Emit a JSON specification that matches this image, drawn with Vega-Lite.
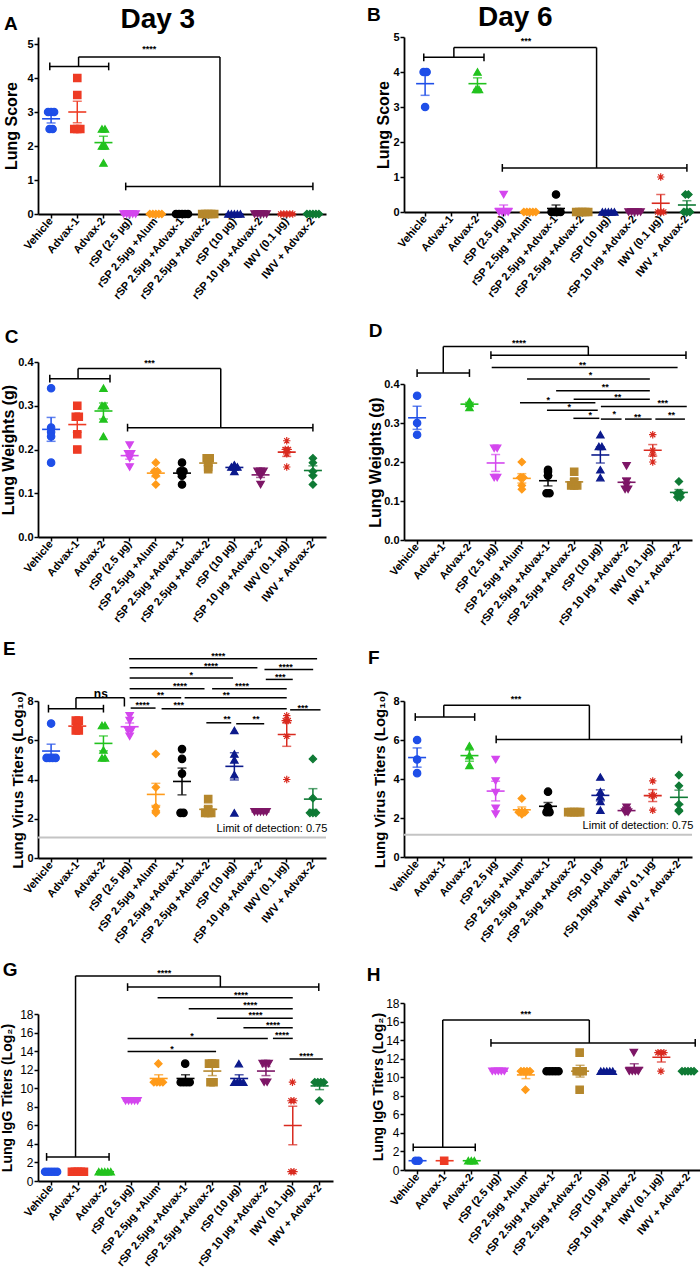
{
"$schema":"https://vega.github.io/schema/vega-lite/v6.json",
"padding":{"left":0,"top":4,"right":0,"bottom":0},
"spacing":33,
"config":{
 "font":"Liberation Sans",
 "view":{"stroke":null},
 "range":{"category":["#1f4fe8","#ee3b24","#22c21e","#d447ee","#ff9b1a","#000000","#b5872c","#0c1a8c","#7d1666","#d92a1f","#0f7a35"],
  "symbol":["circle","square","triangle-up","triangle-down","diamond","circle","square","triangle-up","triangle-down","M0,-1L0,1M-1,0L1,0M-0.7,-0.7L0.7,0.7M-0.7,0.7L0.7,-0.7","diamond"]},
 "axis":{"domainColor":"black","domainWidth":1.8,"tickColor":"black","tickWidth":1.5,"tickSize":4,"labelColor":"black","labelFontWeight":"bold","labelFontSize":11,"titleColor":"black","titleFontWeight":"bold","grid":false,"labelPadding":1},
 "title":{"fontWeight":"bold","color":"black","fontSize":19,"anchor":"start"}
},
"hconcat":[
{"title":{"text":"Day 3","fontSize":28,"anchor":"middle","offset":-19,"dx":-9},
 "spacing":16,
 "vconcat":[
 {"width":288,"height":177,"title":{"text":"A","offset":3},
  "encoding":{"y":{"field":"v","type":"quantitative","scale":{"domain":[0,5.206],"nice":false,"zero":false},"axis":{"title":"Lung Score","titleFontSize":16,"values":[0,1,2,3,4,5],"titlePadding":7}}},
  "resolve":{"scale":{"x":"independent"}},
  "layer":[
   {"data":{"values":[{"g":1,"v":3},{"g":1,"v":3},{"g":1,"v":3},{"g":1,"v":2.5},{"g":1,"v":2.5},{"g":2,"v":4},{"g":2,"v":3.5},{"g":2,"v":2.5},{"g":2,"v":2.5},{"g":2,"v":2.5},{"g":3,"v":2.5},{"g":3,"v":2.5},{"g":3,"v":2},{"g":3,"v":2},{"g":3,"v":1.5},{"g":4,"v":0},{"g":4,"v":0},{"g":4,"v":0},{"g":4,"v":0},{"g":4,"v":0},{"g":5,"v":0},{"g":5,"v":0},{"g":5,"v":0},{"g":5,"v":0},{"g":5,"v":0},{"g":6,"v":0},{"g":6,"v":0},{"g":6,"v":0},{"g":6,"v":0},{"g":6,"v":0},{"g":7,"v":0},{"g":7,"v":0},{"g":7,"v":0},{"g":7,"v":0},{"g":7,"v":0},{"g":8,"v":0},{"g":8,"v":0},{"g":8,"v":0},{"g":8,"v":0},{"g":8,"v":0},{"g":9,"v":0},{"g":9,"v":0},{"g":9,"v":0},{"g":9,"v":0},{"g":9,"v":0},{"g":10,"v":0},{"g":10,"v":0},{"g":10,"v":0},{"g":10,"v":0},{"g":10,"v":0},{"g":11,"v":0},{"g":11,"v":0},{"g":11,"v":0},{"g":11,"v":0},{"g":11,"v":0}]},
    "encoding":{"x":{"field":"g","type":"nominal","scale":{"type":"band","domain":[1,2,3,4,5,6,7,8,9,10,11],"paddingInner":0,"paddingOuter":0},"axis":{"title":" ","titleFontSize":12,"titlePadding":0,"labelAngle":-50,"labelOverlap":false,"labelExpr":"['Vehicle','Advax-1','Advax-2','rSP (2.5 µg)','rSP 2.5µg +Alum','rSP 2.5µg +Advax-1','rSP 2.5µg +Advax-2','rSP (10 µg)','rSP 10 µg +Advax-2','IWV (0.1 µg)','IWV + Advax-2'][datum.value - 1]"}}},
    "layer":[
     {"transform":[{"window":[{"op":"row_number","as":"r"},{"op":"count","as":"n"}],"groupby":["g","v"],"frame":[null,null]},{"calculate":"datum.r - (datum.n + 1) / 2","as":"off"}],
      "mark":{"type":"point","filled":true,"size":55,"opacity":1,"strokeWidth":1.2},
      "encoding":{"xOffset":{"field":"off","type":"quantitative","scale":{"domain":[-3,3],"range":[4.1,22.1]}},"color":{"field":"g","type":"nominal","scale":{"domain":[1,2,3,4,5,6,7,8,9,10,11]},"legend":null},"stroke":{"field":"g","type":"nominal","scale":{"domain":[1,2,3,4,5,6,7,8,9,10,11]},"legend":null},"shape":{"field":"g","type":"nominal","scale":{"domain":[1,2,3,4,5,6,7,8,9,10,11]},"legend":null}}},
     {"transform":[{"aggregate":[{"op":"mean","field":"v","as":"v"}],"groupby":["g"]}],"mark":{"type":"tick","thickness":1.6,"size":18,"opacity":1},"encoding":{"color":{"field":"g","type":"nominal","scale":{"domain":[1,2,3,4,5,6,7,8,9,10,11]},"legend":null}}},
     {"mark":{"type":"errorbar","extent":"stderr","thickness":1.5,"ticks":{"size":9,"thickness":1.5}},"encoding":{"color":{"field":"g","type":"nominal","scale":{"domain":[1,2,3,4,5,6,7,8,9,10,11]},"legend":null}}}
    ]},
   {"data":{"values":[{"x1":0.95,"x2":3.2,"v":4.34,"v2":4.34,"cap":1},{"x1":2.05,"x2":2.05,"v":4.34,"v2":4.62},{"x1":2.05,"x2":7.45,"v":4.62,"v2":4.62},{"x1":7.45,"x2":7.45,"v":4.62,"v2":0.81},{"x1":3.85,"x2":11.0,"v":0.81,"v2":0.81,"cap":1},{"x1":4.75,"v":4.9,"t":"****"}]},
    "layer":[
     {"transform":[{"filter":"isValid(datum.x2) && !datum.lod"}],"mark":{"type":"rule","color":"black","strokeWidth":1.5},"encoding":{"x":{"field":"x1","type":"quantitative","scale":{"domain":[0.5,11.5],"nice":false,"zero":false},"axis":null},"x2":{"field":"x2"},"y2":{"field":"v2"}}},
     {"transform":[{"filter":"datum.cap == 1"}],"mark":{"type":"point","shape":"M0,-1L0,1","size":60,"stroke":"black","strokeWidth":1.5,"filled":false,"opacity":1},"encoding":{"x":{"field":"x1","type":"quantitative","scale":{"domain":[0.5,11.5],"nice":false,"zero":false},"axis":null}}},
     {"transform":[{"filter":"datum.cap == 1"}],"mark":{"type":"point","shape":"M0,-1L0,1","size":60,"stroke":"black","strokeWidth":1.5,"filled":false,"opacity":1},"encoding":{"x":{"field":"x2","type":"quantitative","scale":{"domain":[0.5,11.5],"nice":false,"zero":false},"axis":null}}},
     {"transform":[{"filter":"isValid(datum.t) && !datum.lod"}],"mark":{"type":"text","fontSize":9,"fontWeight":"bold","baseline":"alphabetic","dy":5},"encoding":{"x":{"field":"x1","type":"quantitative","scale":{"domain":[0.5,11.5],"nice":false,"zero":false},"axis":null},"text":{"field":"t"}}}
    ]}
  ]},
 {"width":288,"height":175,"title":{"text":"C","offset":9,"dx":4},
  "encoding":{"y":{"field":"v","type":"quantitative","scale":{"domain":[0,0.4],"nice":false,"zero":false},"axis":{"title":"Lung Weights (g)","titleFontSize":16,"values":[0,0.1,0.2,0.3,0.4],"format":".1f","titlePadding":1}}},
  "resolve":{"scale":{"x":"independent"}},
  "layer":[
   {"data":{"values":[{"g":1,"v":0.34},{"g":1,"v":0.25},{"g":1,"v":0.24},{"g":1,"v":0.23},{"g":1,"v":0.17},{"g":2,"v":0.3},{"g":2,"v":0.275},{"g":2,"v":0.275},{"g":2,"v":0.235},{"g":2,"v":0.2},{"g":3,"v":0.34},{"g":3,"v":0.3},{"g":3,"v":0.3},{"g":3,"v":0.27},{"g":3,"v":0.23},{"g":4,"v":0.21},{"g":4,"v":0.19},{"g":4,"v":0.19},{"g":4,"v":0.18},{"g":4,"v":0.16},{"g":5,"v":0.17},{"g":5,"v":0.15},{"g":5,"v":0.15},{"g":5,"v":0.14},{"g":5,"v":0.12},{"g":6,"v":0.17},{"g":6,"v":0.15},{"g":6,"v":0.15},{"g":6,"v":0.14},{"g":6,"v":0.12},{"g":7,"v":0.18},{"g":7,"v":0.18},{"g":7,"v":0.17},{"g":7,"v":0.16},{"g":7,"v":0.155},{"g":8,"v":0.165},{"g":8,"v":0.16},{"g":8,"v":0.16},{"g":8,"v":0.16},{"g":8,"v":0.15},{"g":9,"v":0.15},{"g":9,"v":0.15},{"g":9,"v":0.15},{"g":9,"v":0.14},{"g":9,"v":0.12},{"g":10,"v":0.22},{"g":10,"v":0.2},{"g":10,"v":0.2},{"g":10,"v":0.19},{"g":10,"v":0.16},{"g":11,"v":0.18},{"g":11,"v":0.17},{"g":11,"v":0.15},{"g":11,"v":0.14},{"g":11,"v":0.12}]},
    "encoding":{"x":{"field":"g","type":"nominal","scale":{"type":"band","domain":[1,2,3,4,5,6,7,8,9,10,11],"paddingInner":0,"paddingOuter":0},"axis":{"title":null,"labelAngle":-50,"labelOverlap":false,"labelExpr":"['Vehicle','Advax-1','Advax-2','rSP (2.5 µg)','rSP 2.5µg +Alum','rSP 2.5µg +Advax-1','rSP 2.5µg +Advax-2','rSP (10 µg)','rSP 10 µg +Advax-2','IWV (0.1 µg)','IWV + Advax-2'][datum.value - 1]"}}},
    "layer":[
     {"transform":[{"window":[{"op":"row_number","as":"r"},{"op":"count","as":"n"}],"groupby":["g","v"],"frame":[null,null]},{"calculate":"datum.r - (datum.n + 1) / 2","as":"off"}],
      "mark":{"type":"point","filled":true,"size":55,"opacity":1,"strokeWidth":1.2},
      "encoding":{"xOffset":{"field":"off","type":"quantitative","scale":{"domain":[-3,3],"range":[4.1,22.1]}},"color":{"field":"g","type":"nominal","scale":{"domain":[1,2,3,4,5,6,7,8,9,10,11]},"legend":null},"stroke":{"field":"g","type":"nominal","scale":{"domain":[1,2,3,4,5,6,7,8,9,10,11]},"legend":null},"shape":{"field":"g","type":"nominal","scale":{"domain":[1,2,3,4,5,6,7,8,9,10,11]},"legend":null}}},
     {"transform":[{"aggregate":[{"op":"mean","field":"v","as":"v"}],"groupby":["g"]}],"mark":{"type":"tick","thickness":1.6,"size":18,"opacity":1},"encoding":{"color":{"field":"g","type":"nominal","scale":{"domain":[1,2,3,4,5,6,7,8,9,10,11]},"legend":null}}},
     {"mark":{"type":"errorbar","extent":"stderr","thickness":1.5,"ticks":{"size":9,"thickness":1.5}},"encoding":{"color":{"field":"g","type":"nominal","scale":{"domain":[1,2,3,4,5,6,7,8,9,10,11]},"legend":null}}}
    ]},
   {"data":{"values":[{"x1":0.95,"x2":3.25,"v":0.362,"v2":0.362,"cap":1},{"x1":2.03,"x2":2.03,"v":0.362,"v2":0.385},{"x1":2.03,"x2":7.48,"v":0.385,"v2":0.385},{"x1":7.48,"x2":7.48,"v":0.385,"v2":0.25},{"x1":3.92,"x2":11.0,"v":0.25,"v2":0.25,"cap":1},{"x1":4.76,"v":0.402,"t":"***"}]},
    "layer":[
     {"transform":[{"filter":"isValid(datum.x2) && !datum.lod"}],"mark":{"type":"rule","color":"black","strokeWidth":1.5},"encoding":{"x":{"field":"x1","type":"quantitative","scale":{"domain":[0.5,11.5],"nice":false,"zero":false},"axis":null},"x2":{"field":"x2"},"y2":{"field":"v2"}}},
     {"transform":[{"filter":"datum.cap == 1"}],"mark":{"type":"point","shape":"M0,-1L0,1","size":60,"stroke":"black","strokeWidth":1.5,"filled":false,"opacity":1},"encoding":{"x":{"field":"x1","type":"quantitative","scale":{"domain":[0.5,11.5],"nice":false,"zero":false},"axis":null}}},
     {"transform":[{"filter":"datum.cap == 1"}],"mark":{"type":"point","shape":"M0,-1L0,1","size":60,"stroke":"black","strokeWidth":1.5,"filled":false,"opacity":1},"encoding":{"x":{"field":"x2","type":"quantitative","scale":{"domain":[0.5,11.5],"nice":false,"zero":false},"axis":null}}},
     {"transform":[{"filter":"isValid(datum.t) && !datum.lod"}],"mark":{"type":"text","fontSize":9,"fontWeight":"bold","baseline":"alphabetic","dy":5},"encoding":{"x":{"field":"x1","type":"quantitative","scale":{"domain":[0.5,11.5],"nice":false,"zero":false},"axis":null},"text":{"field":"t"}}}
    ]}
  ]},
 {"width":288,"height":157,"title":{"text":"E","offset":-7,"dx":-8},
  "encoding":{"y":{"field":"v","type":"quantitative","scale":{"domain":[0,8],"nice":false,"zero":false},"axis":{"title":"Lung Virus Titers (Log₁₀)","titleFontSize":15,"values":[0,2,4,6,8],"titlePadding":1}}},
  "resolve":{"scale":{"x":"independent"}},
  "layer":[
   {"data":{"values":[{"g":1,"v":6.85},{"g":1,"v":5.1},{"g":1,"v":5.1},{"g":1,"v":5.1},{"g":1,"v":5.1},{"g":2,"v":7.0},{"g":2,"v":7.0},{"g":2,"v":6.6},{"g":2,"v":6.5},{"g":2,"v":6.5},{"g":3,"v":6.75},{"g":3,"v":6.75},{"g":3,"v":5.5},{"g":3,"v":5.1},{"g":3,"v":5.1},{"g":4,"v":7.25},{"g":4,"v":7.0},{"g":4,"v":6.5},{"g":4,"v":6.5},{"g":4,"v":6.2},{"g":5,"v":5.3},{"g":5,"v":3.6},{"g":5,"v":2.6},{"g":5,"v":2.4},{"g":5,"v":2.3},{"g":6,"v":5.55},{"g":6,"v":5.05},{"g":6,"v":4.3},{"g":6,"v":2.3},{"g":6,"v":2.3},{"g":7,"v":3.0},{"g":7,"v":2.5},{"g":7,"v":2.3},{"g":7,"v":2.3},{"g":7,"v":2.3},{"g":8,"v":6.5},{"g":8,"v":5.3},{"g":8,"v":5.0},{"g":8,"v":4.25},{"g":8,"v":2.3},{"g":9,"v":2.35},{"g":9,"v":2.35},{"g":9,"v":2.35},{"g":9,"v":2.35},{"g":9,"v":2.35},{"g":10,"v":7.25},{"g":10,"v":7.0},{"g":10,"v":7.0},{"g":10,"v":6.2},{"g":10,"v":4.0},{"g":11,"v":5.05},{"g":11,"v":3.05},{"g":11,"v":2.3},{"g":11,"v":2.3},{"g":11,"v":2.3}]},
    "encoding":{"x":{"field":"g","type":"nominal","scale":{"type":"band","domain":[1,2,3,4,5,6,7,8,9,10,11],"paddingInner":0,"paddingOuter":0},"axis":{"title":null,"labelAngle":-50,"labelOverlap":false,"labelExpr":"['Vehicle','Advax-1','Advax-2','rSP (2.5 µg)','rSP 2.5µg +Alum','rSP 2.5µg +Advax-1','rSP 2.5µg +Advax-2','rSP (10 µg)','rSP 10 µg +Advax-2','IWV (0.1 µg)','IWV + Advax-2'][datum.value - 1]"}}},
    "layer":[
     {"transform":[{"window":[{"op":"row_number","as":"r"},{"op":"count","as":"n"}],"groupby":["g","v"],"frame":[null,null]},{"calculate":"datum.r - (datum.n + 1) / 2","as":"off"}],
      "mark":{"type":"point","filled":true,"size":55,"opacity":1,"strokeWidth":1.2},
      "encoding":{"xOffset":{"field":"off","type":"quantitative","scale":{"domain":[-3,3],"range":[4.1,22.1]}},"color":{"field":"g","type":"nominal","scale":{"domain":[1,2,3,4,5,6,7,8,9,10,11]},"legend":null},"stroke":{"field":"g","type":"nominal","scale":{"domain":[1,2,3,4,5,6,7,8,9,10,11]},"legend":null},"shape":{"field":"g","type":"nominal","scale":{"domain":[1,2,3,4,5,6,7,8,9,10,11]},"legend":null}}},
     {"transform":[{"aggregate":[{"op":"mean","field":"v","as":"v"}],"groupby":["g"]}],"mark":{"type":"tick","thickness":1.6,"size":18,"opacity":1},"encoding":{"color":{"field":"g","type":"nominal","scale":{"domain":[1,2,3,4,5,6,7,8,9,10,11]},"legend":null}}},
     {"mark":{"type":"errorbar","extent":"stderr","thickness":1.5,"ticks":{"size":9,"thickness":1.5}},"encoding":{"color":{"field":"g","type":"nominal","scale":{"domain":[1,2,3,4,5,6,7,8,9,10,11]},"legend":null}}}
    ]},
   {"data":{"values":[{"x1":0.9,"x2":3.0,"v":7.61,"v2":7.61,"cap":1},{"x1":1.95,"x2":1.95,"v":7.61,"v2":8.17},{"x1":1.95,"x2":3.8,"v":8.17,"v2":8.17},{"x1":3.8,"x2":3.8,"v":8.17,"v2":7.72},{"x1":2.9,"v":8.42,"t":"ns"},
     {"x1":3.98,"x2":11.16,"v":10.15,"v2":10.15},{"x1":7.38,"v":10.37,"t":"****"},
     {"x1":4.0,"x2":8.88,"v":9.69,"v2":9.69},{"x1":7.11,"v":9.91,"t":"****"},
     {"x1":9.15,"x2":11.01,"v":9.61,"v2":9.61},{"x1":9.96,"v":9.81,"t":"****"},
     {"x1":4.0,"x2":7.95,"v":9.17,"v2":9.17},{"x1":6.35,"v":9.42,"t":"*"},
     {"x1":9.2,"x2":10.23,"v":9.1,"v2":9.1},{"x1":9.75,"v":9.34,"t":"***"},
     {"x1":4.0,"x2":6.86,"v":8.62,"v2":8.62},{"x1":5.92,"v":8.88,"t":"****"},
     {"x1":7.15,"x2":10.0,"v":8.62,"v2":8.62},{"x1":8.29,"v":8.88,"t":"****"},
     {"x1":4.0,"x2":5.97,"v":8.16,"v2":8.16},{"x1":5.18,"v":8.4,"t":"**"},
     {"x1":6.1,"x2":10.0,"v":8.16,"v2":8.16},{"x1":7.69,"v":8.4,"t":"**"},
     {"x1":4.04,"x2":4.99,"v":7.64,"v2":7.64},{"x1":4.49,"v":7.91,"t":"****"},
     {"x1":5.22,"x2":10.0,"v":7.6,"v2":7.6},{"x1":5.88,"v":7.91,"t":"***"},
     {"x1":10.13,"x2":11.29,"v":7.55,"v2":7.55},{"x1":10.61,"v":7.77,"t":"***"},
     {"x1":6.93,"x2":7.88,"v":6.89,"v2":6.89},{"x1":7.72,"v":7.18,"t":"**"},
     {"x1":8.07,"x2":9.14,"v":6.84,"v2":6.84},{"x1":8.83,"v":7.18,"t":"**"},
     {"x1":0.5,"x2":11.5,"v":1.05,"lod":1},{"x1":11.55,"v":1.5,"t":"Limit of detection: 0.75","lod":1}]},
    "layer":[
     {"transform":[{"filter":"datum.lod == 1 && isValid(datum.x2)"}],"mark":{"type":"rule","color":"#c4c4c4","strokeWidth":2},"encoding":{"x":{"field":"x1","type":"quantitative","scale":{"domain":[0.5,11.5],"nice":false,"zero":false},"axis":null},"x2":{"field":"x2"}}},
     {"transform":[{"filter":"datum.lod == 1 && isValid(datum.t)"}],"mark":{"type":"text","fontSize":11,"align":"right","baseline":"middle"},"encoding":{"x":{"field":"x1","type":"quantitative","scale":{"domain":[0.5,11.5],"nice":false,"zero":false},"axis":null},"text":{"field":"t"}}},
     {"transform":[{"filter":"isValid(datum.x2) && !datum.lod"}],"mark":{"type":"rule","color":"black","strokeWidth":1.5},"encoding":{"x":{"field":"x1","type":"quantitative","scale":{"domain":[0.5,11.5],"nice":false,"zero":false},"axis":null},"x2":{"field":"x2"},"y2":{"field":"v2"}}},
     {"transform":[{"filter":"datum.cap == 1"}],"mark":{"type":"point","shape":"M0,-1L0,1","size":60,"stroke":"black","strokeWidth":1.5,"filled":false,"opacity":1},"encoding":{"x":{"field":"x1","type":"quantitative","scale":{"domain":[0.5,11.5],"nice":false,"zero":false},"axis":null}}},
     {"transform":[{"filter":"datum.cap == 1"}],"mark":{"type":"point","shape":"M0,-1L0,1","size":60,"stroke":"black","strokeWidth":1.5,"filled":false,"opacity":1},"encoding":{"x":{"field":"x2","type":"quantitative","scale":{"domain":[0.5,11.5],"nice":false,"zero":false},"axis":null}}},
     {"transform":[{"filter":"isValid(datum.t) && !datum.lod"}],"mark":{"type":"text","fontSize":9,"fontWeight":"bold","baseline":"alphabetic","dy":5},"encoding":{"x":{"field":"x1","type":"quantitative","scale":{"domain":[0.5,11.5],"nice":false,"zero":false},"axis":null},"text":{"field":"t"},"size":{"condition":{"test":"datum.t == 'ns'","value":12},"value":9}}}
    ]}
  ]},
 {"width":295,"height":167,"title":{"text":"G","offset":-11,"dx":2},
  "encoding":{"y":{"field":"v","type":"quantitative","scale":{"domain":[0,18],"nice":false,"zero":false},"axis":{"title":"Lung IgG Titers (Log₂)","titleFontSize":14,"values":[0,2,4,6,8,10,12,14,16,18],"labelFontWeight":"normal","labelFontSize":12,"titlePadding":5}}},
  "resolve":{"scale":{"x":"independent"}},
  "layer":[
   {"data":{"values":[{"g":1,"v":1},{"g":1,"v":1},{"g":1,"v":1},{"g":1,"v":1},{"g":1,"v":1},{"g":2,"v":1},{"g":2,"v":1},{"g":2,"v":1},{"g":2,"v":1},{"g":2,"v":1},{"g":3,"v":1},{"g":3,"v":1},{"g":3,"v":1},{"g":3,"v":1},{"g":3,"v":1},{"g":4,"v":8.65},{"g":4,"v":8.65},{"g":4,"v":8.65},{"g":4,"v":8.65},{"g":4,"v":8.65},{"g":5,"v":12.65},{"g":5,"v":10.65},{"g":5,"v":10.65},{"g":5,"v":10.65},{"g":5,"v":10.65},{"g":6,"v":12.65},{"g":6,"v":10.65},{"g":6,"v":10.65},{"g":6,"v":10.65},{"g":6,"v":10.65},{"g":7,"v":12.65},{"g":7,"v":12.65},{"g":7,"v":12.65},{"g":7,"v":10.65},{"g":7,"v":10.65},{"g":8,"v":12.65},{"g":8,"v":10.65},{"g":8,"v":10.65},{"g":8,"v":10.65},{"g":8,"v":10.65},{"g":9,"v":12.65},{"g":9,"v":12.65},{"g":9,"v":12.65},{"g":9,"v":10.65},{"g":9,"v":10.65},{"g":10,"v":10.65},{"g":10,"v":8.65},{"g":10,"v":8.65},{"g":10,"v":1},{"g":10,"v":1},{"g":11,"v":10.65},{"g":11,"v":10.65},{"g":11,"v":10.65},{"g":11,"v":10.65},{"g":11,"v":8.65}]},
    "encoding":{"x":{"field":"g","type":"nominal","scale":{"type":"band","domain":[1,2,3,4,5,6,7,8,9,10,11],"paddingInner":0,"paddingOuter":0},"axis":{"title":null,"labelAngle":-50,"labelOverlap":false,"labelExpr":"['Vehicle','Advax-1','Advax-2','rSP (2.5 µg)','rSP 2.5µg +Alum','rSP 2.5µg +Advax-1','rSP 2.5µg +Advax-2','rSP (10 µg)','rSP 10 µg +Advax-2','IWV (0.1 µg)','IWV + Advax-2'][datum.value - 1]"}}},
    "layer":[
     {"transform":[{"window":[{"op":"row_number","as":"r"},{"op":"count","as":"n"}],"groupby":["g","v"],"frame":[null,null]},{"calculate":"datum.r - (datum.n + 1) / 2","as":"off"}],
      "mark":{"type":"point","filled":true,"size":55,"opacity":1,"strokeWidth":1.2},
      "encoding":{"xOffset":{"field":"off","type":"quantitative","scale":{"domain":[-3,3],"range":[4.4,22.4]}},"color":{"field":"g","type":"nominal","scale":{"domain":[1,2,3,4,5,6,7,8,9,10,11]},"legend":null},"stroke":{"field":"g","type":"nominal","scale":{"domain":[1,2,3,4,5,6,7,8,9,10,11]},"legend":null},"shape":{"field":"g","type":"nominal","scale":{"domain":[1,2,3,4,5,6,7,8,9,10,11]},"legend":null}}},
     {"transform":[{"aggregate":[{"op":"mean","field":"v","as":"v"}],"groupby":["g"]}],"mark":{"type":"tick","thickness":1.6,"size":18,"opacity":1},"encoding":{"color":{"field":"g","type":"nominal","scale":{"domain":[1,2,3,4,5,6,7,8,9,10,11]},"legend":null}}},
     {"mark":{"type":"errorbar","extent":"stderr","thickness":1.5,"ticks":{"size":9,"thickness":1.5}},"encoding":{"color":{"field":"g","type":"nominal","scale":{"domain":[1,2,3,4,5,6,7,8,9,10,11]},"legend":null}}}
    ]},
   {"data":{"values":[{"x1":0.82,"x2":3.15,"v":2.6,"v2":2.6,"cap":1},{"x1":1.9,"x2":1.9,"v":2.6,"v2":22.1},{"x1":1.9,"x2":7.3,"v":22.1,"v2":22.1},{"x1":7.3,"x2":7.3,"v":22.1,"v2":20.9},{"x1":3.84,"x2":10.97,"v":20.9,"v2":20.9,"cap":1},{"x1":5.21,"v":22.6,"t":"****"},
     {"x1":4.96,"x2":10.0,"v":19.76,"v2":19.76},{"x1":8.07,"v":20.3,"t":"****"},
     {"x1":6.12,"x2":10.0,"v":18.57,"v2":18.57},{"x1":8.41,"v":19.15,"t":"****"},
     {"x1":7.17,"x2":10.0,"v":17.53,"v2":17.53},{"x1":8.61,"v":18.07,"t":"****"},
     {"x1":8.16,"x2":10.0,"v":16.53,"v2":16.53},{"x1":9.26,"v":17.04,"t":"****"},
     {"x1":3.84,"x2":9.07,"v":15.37,"v2":15.37},{"x1":6.24,"v":15.84,"t":"*"},
     {"x1":9.26,"x2":10.0,"v":15.37,"v2":15.37},{"x1":9.6,"v":15.9,"t":"****"},
     {"x1":3.84,"x2":7.14,"v":13.97,"v2":13.97},{"x1":5.5,"v":14.47,"t":"*"},
     {"x1":9.88,"x2":11.12,"v":13.14,"v2":13.14},{"x1":10.5,"v":13.68,"t":"****"}]},
    "layer":[
     {"transform":[{"filter":"isValid(datum.x2) && !datum.lod"}],"mark":{"type":"rule","color":"black","strokeWidth":1.5},"encoding":{"x":{"field":"x1","type":"quantitative","scale":{"domain":[0.5,11.5],"nice":false,"zero":false},"axis":null},"x2":{"field":"x2"},"y2":{"field":"v2"}}},
     {"transform":[{"filter":"datum.cap == 1"}],"mark":{"type":"point","shape":"M0,-1L0,1","size":60,"stroke":"black","strokeWidth":1.5,"filled":false,"opacity":1},"encoding":{"x":{"field":"x1","type":"quantitative","scale":{"domain":[0.5,11.5],"nice":false,"zero":false},"axis":null}}},
     {"transform":[{"filter":"datum.cap == 1"}],"mark":{"type":"point","shape":"M0,-1L0,1","size":60,"stroke":"black","strokeWidth":1.5,"filled":false,"opacity":1},"encoding":{"x":{"field":"x2","type":"quantitative","scale":{"domain":[0.5,11.5],"nice":false,"zero":false},"axis":null}}},
     {"transform":[{"filter":"isValid(datum.t) && !datum.lod"}],"mark":{"type":"text","fontSize":9,"fontWeight":"bold","baseline":"alphabetic","dy":5},"encoding":{"x":{"field":"x1","type":"quantitative","scale":{"domain":[0.5,11.5],"nice":false,"zero":false},"axis":null},"text":{"field":"t"}}}
    ]}
  ]}
 ]},
{"title":{"text":"Day 6","fontSize":28,"anchor":"middle","offset":-26,"dx":-19},
 "spacing":22,
 "vconcat":[
 {"width":296,"height":175,"title":{"text":"B","offset":6,"dx":-9},
  "encoding":{"y":{"field":"v","type":"quantitative","scale":{"domain":[0,5],"nice":false,"zero":false},"axis":{"title":"Lung Score","titleFontSize":16,"values":[0,1,2,3,4,5],"titlePadding":1}}},
  "resolve":{"scale":{"x":"independent"}},
  "layer":[
   {"data":{"values":[{"g":1,"v":4},{"g":1,"v":4},{"g":1,"v":3},{"g":3,"v":4},{"g":3,"v":3.5},{"g":3,"v":3.5},{"g":4,"v":0.5},{"g":4,"v":0},{"g":4,"v":0},{"g":4,"v":0},{"g":4,"v":0},{"g":5,"v":0},{"g":5,"v":0},{"g":5,"v":0},{"g":5,"v":0},{"g":5,"v":0},{"g":6,"v":0.5},{"g":6,"v":0},{"g":6,"v":0},{"g":6,"v":0},{"g":6,"v":0},{"g":7,"v":0},{"g":7,"v":0},{"g":7,"v":0},{"g":7,"v":0},{"g":7,"v":0},{"g":8,"v":0},{"g":8,"v":0},{"g":8,"v":0},{"g":8,"v":0},{"g":8,"v":0},{"g":9,"v":0},{"g":9,"v":0},{"g":9,"v":0},{"g":9,"v":0},{"g":9,"v":0},{"g":10,"v":1},{"g":10,"v":0},{"g":10,"v":0},{"g":10,"v":0},{"g":11,"v":0.5},{"g":11,"v":0.5},{"g":11,"v":0},{"g":11,"v":0},{"g":11,"v":0}]},
    "encoding":{"x":{"field":"g","type":"nominal","scale":{"type":"band","domain":[1,2,3,4,5,6,7,8,9,10,11],"paddingInner":0,"paddingOuter":0.153,"align":1},"axis":{"title":null,"labelAngle":-50,"labelOverlap":false,"labelExpr":"['Vehicle','Advax-1','Advax-2','rSP (2.5 µg)','rSP 2.5µg +Alum','rSP 2.5µg +Advax-1','rSP 2.5µg +Advax-2','rSP (10 µg)','rSP 10 µg +Advax-2','IWV (0.1 µg)','IWV + Advax-2'][datum.value - 1]"}}},
    "layer":[
     {"transform":[{"window":[{"op":"row_number","as":"r"},{"op":"count","as":"n"}],"groupby":["g","v"],"frame":[null,null]},{"calculate":"datum.r - (datum.n + 1) / 2","as":"off"}],
      "mark":{"type":"point","filled":true,"size":55,"opacity":1,"strokeWidth":1.2},
      "encoding":{"xOffset":{"field":"off","type":"quantitative","scale":{"domain":[-3,3],"range":[4.1,22.1]}},"color":{"field":"g","type":"nominal","scale":{"domain":[1,2,3,4,5,6,7,8,9,10,11]},"legend":null},"stroke":{"field":"g","type":"nominal","scale":{"domain":[1,2,3,4,5,6,7,8,9,10,11]},"legend":null},"shape":{"field":"g","type":"nominal","scale":{"domain":[1,2,3,4,5,6,7,8,9,10,11]},"legend":null}}},
     {"transform":[{"aggregate":[{"op":"mean","field":"v","as":"v"}],"groupby":["g"]}],"mark":{"type":"tick","thickness":1.6,"size":18,"opacity":1},"encoding":{"color":{"field":"g","type":"nominal","scale":{"domain":[1,2,3,4,5,6,7,8,9,10,11]},"legend":null}}},
     {"mark":{"type":"errorbar","extent":"stderr","thickness":1.5,"ticks":{"size":9,"thickness":1.5}},"encoding":{"color":{"field":"g","type":"nominal","scale":{"domain":[1,2,3,4,5,6,7,8,9,10,11]},"legend":null}}}
    ]},
   {"data":{"values":[{"x1":0.95,"x2":3.25,"v":4.42,"v2":4.42,"cap":1},{"x1":2.1,"x2":2.1,"v":4.42,"v2":4.7},{"x1":2.1,"x2":7.55,"v":4.7,"v2":4.7},{"x1":7.55,"x2":7.55,"v":4.7,"v2":1.26},{"x1":3.95,"x2":11.0,"v":1.26,"v2":1.26,"cap":1},{"x1":4.85,"v":4.94,"t":"***"}]},
    "layer":[
     {"transform":[{"filter":"isValid(datum.x2) && !datum.lod"}],"mark":{"type":"rule","color":"black","strokeWidth":1.5},"encoding":{"x":{"field":"x1","type":"quantitative","scale":{"domain":[0.195,11.5],"nice":false,"zero":false},"axis":null},"x2":{"field":"x2"},"y2":{"field":"v2"}}},
     {"transform":[{"filter":"datum.cap == 1"}],"mark":{"type":"point","shape":"M0,-1L0,1","size":60,"stroke":"black","strokeWidth":1.5,"filled":false,"opacity":1},"encoding":{"x":{"field":"x1","type":"quantitative","scale":{"domain":[0.195,11.5],"nice":false,"zero":false},"axis":null}}},
     {"transform":[{"filter":"datum.cap == 1"}],"mark":{"type":"point","shape":"M0,-1L0,1","size":60,"stroke":"black","strokeWidth":1.5,"filled":false,"opacity":1},"encoding":{"x":{"field":"x2","type":"quantitative","scale":{"domain":[0.195,11.5],"nice":false,"zero":false},"axis":null}}},
     {"transform":[{"filter":"isValid(datum.t) && !datum.lod"}],"mark":{"type":"text","fontSize":9,"fontWeight":"bold","baseline":"alphabetic","dy":5},"encoding":{"x":{"field":"x1","type":"quantitative","scale":{"domain":[0.195,11.5],"nice":false,"zero":false},"axis":null},"text":{"field":"t"}}}
    ]}
  ]},
 {"width":288,"height":156,"title":{"text":"D","offset":-2,"dx":1},
  "encoding":{"y":{"field":"v","type":"quantitative","scale":{"domain":[0,0.4],"nice":false,"zero":false},"axis":{"title":"Lung Weights (g)","titleFontSize":16,"values":[0,0.1,0.2,0.3,0.4],"format":".1f","titlePadding":0}}},
  "resolve":{"scale":{"x":"independent"}},
  "layer":[
   {"data":{"values":[{"g":1,"v":0.37},{"g":1,"v":0.3},{"g":1,"v":0.27},{"g":3,"v":0.355},{"g":3,"v":0.35},{"g":3,"v":0.34},{"g":4,"v":0.235},{"g":4,"v":0.235},{"g":4,"v":0.16},{"g":4,"v":0.16},{"g":5,"v":0.2},{"g":5,"v":0.16},{"g":5,"v":0.16},{"g":5,"v":0.14},{"g":5,"v":0.13},{"g":6,"v":0.18},{"g":6,"v":0.175},{"g":6,"v":0.165},{"g":6,"v":0.12},{"g":6,"v":0.12},{"g":7,"v":0.175},{"g":7,"v":0.15},{"g":7,"v":0.14},{"g":7,"v":0.14},{"g":7,"v":0.14},{"g":8,"v":0.27},{"g":8,"v":0.24},{"g":8,"v":0.24},{"g":8,"v":0.18},{"g":8,"v":0.16},{"g":9,"v":0.19},{"g":9,"v":0.15},{"g":9,"v":0.14},{"g":9,"v":0.13},{"g":9,"v":0.13},{"g":10,"v":0.27},{"g":10,"v":0.23},{"g":10,"v":0.22},{"g":10,"v":0.2},{"g":11,"v":0.15},{"g":11,"v":0.12},{"g":11,"v":0.12},{"g":11,"v":0.11},{"g":11,"v":0.11}]},
    "encoding":{"x":{"field":"g","type":"nominal","scale":{"type":"band","domain":[1,2,3,4,5,6,7,8,9,10,11],"paddingInner":0,"paddingOuter":0},"axis":{"title":null,"labelAngle":-50,"labelOverlap":false,"labelExpr":"['Vehicle','Advax-1','Advax-2','rSP (2.5 µg)','rSP 2.5µg +Alum','rSP 2.5µg +Advax-1','rSP 2.5µg +Advax-2','rSP (10 µg)','rSP 10 µg +Advax-2','IWV (0.1 µg)','IWV + Advax-2'][datum.value - 1]"}}},
    "layer":[
     {"transform":[{"window":[{"op":"row_number","as":"r"},{"op":"count","as":"n"}],"groupby":["g","v"],"frame":[null,null]},{"calculate":"datum.r - (datum.n + 1) / 2","as":"off"}],
      "mark":{"type":"point","filled":true,"size":55,"opacity":1,"strokeWidth":1.2},
      "encoding":{"xOffset":{"field":"off","type":"quantitative","scale":{"domain":[-3,3],"range":[4.1,22.1]}},"color":{"field":"g","type":"nominal","scale":{"domain":[1,2,3,4,5,6,7,8,9,10,11]},"legend":null},"stroke":{"field":"g","type":"nominal","scale":{"domain":[1,2,3,4,5,6,7,8,9,10,11]},"legend":null},"shape":{"field":"g","type":"nominal","scale":{"domain":[1,2,3,4,5,6,7,8,9,10,11]},"legend":null}}},
     {"transform":[{"aggregate":[{"op":"mean","field":"v","as":"v"}],"groupby":["g"]}],"mark":{"type":"tick","thickness":1.6,"size":18,"opacity":1},"encoding":{"color":{"field":"g","type":"nominal","scale":{"domain":[1,2,3,4,5,6,7,8,9,10,11]},"legend":null}}},
     {"mark":{"type":"errorbar","extent":"stderr","thickness":1.5,"ticks":{"size":9,"thickness":1.5}},"encoding":{"color":{"field":"g","type":"nominal","scale":{"domain":[1,2,3,4,5,6,7,8,9,10,11]},"legend":null}}}
    ]},
   {"data":{"values":[{"x1":1.0,"x2":3.0,"v":0.428,"v2":0.428,"cap":1},{"x1":2.0,"x2":2.0,"v":0.428,"v2":0.496},{"x1":2.0,"x2":7.54,"v":0.496,"v2":0.496},{"x1":7.54,"x2":7.54,"v":0.496,"v2":0.474},{"x1":3.82,"x2":11.27,"v":0.474,"v2":0.474,"cap":1},{"x1":4.89,"v":0.511,"t":"****"},
     {"x1":3.85,"x2":10.95,"v":0.442,"v2":0.442},{"x1":7.32,"v":0.455,"t":"**"},
     {"x1":5.2,"x2":9.89,"v":0.413,"v2":0.413},{"x1":7.62,"v":0.427,"t":"*"},
     {"x1":6.31,"x2":9.89,"v":0.383,"v2":0.383},{"x1":8.19,"v":0.397,"t":"**"},
     {"x1":6.98,"x2":9.89,"v":0.361,"v2":0.361},{"x1":8.66,"v":0.372,"t":"**"},
     {"x1":4.93,"x2":7.81,"v":0.352,"v2":0.352},{"x1":6.01,"v":0.363,"t":"*"},
     {"x1":5.96,"x2":7.9,"v":0.333,"v2":0.333},{"x1":6.81,"v":0.346,"t":"*"},
     {"x1":8.02,"x2":11.3,"v":0.342,"v2":0.342},{"x1":10.38,"v":0.357,"t":"***"},
     {"x1":6.97,"x2":7.96,"v":0.312,"v2":0.312},{"x1":7.61,"v":0.326,"t":"*"},
     {"x1":8.02,"x2":8.81,"v":0.31,"v2":0.31},{"x1":8.53,"v":0.328,"t":"*"},
     {"x1":8.94,"x2":9.96,"v":0.31,"v2":0.31},{"x1":9.42,"v":0.321,"t":"**"},
     {"x1":10.1,"x2":11.23,"v":0.31,"v2":0.31},{"x1":10.72,"v":0.326,"t":"**"}]},
    "layer":[
     {"transform":[{"filter":"isValid(datum.x2) && !datum.lod"}],"mark":{"type":"rule","color":"black","strokeWidth":1.5},"encoding":{"x":{"field":"x1","type":"quantitative","scale":{"domain":[0.5,11.5],"nice":false,"zero":false},"axis":null},"x2":{"field":"x2"},"y2":{"field":"v2"}}},
     {"transform":[{"filter":"datum.cap == 1"}],"mark":{"type":"point","shape":"M0,-1L0,1","size":60,"stroke":"black","strokeWidth":1.5,"filled":false,"opacity":1},"encoding":{"x":{"field":"x1","type":"quantitative","scale":{"domain":[0.5,11.5],"nice":false,"zero":false},"axis":null}}},
     {"transform":[{"filter":"datum.cap == 1"}],"mark":{"type":"point","shape":"M0,-1L0,1","size":60,"stroke":"black","strokeWidth":1.5,"filled":false,"opacity":1},"encoding":{"x":{"field":"x2","type":"quantitative","scale":{"domain":[0.5,11.5],"nice":false,"zero":false},"axis":null}}},
     {"transform":[{"filter":"isValid(datum.t) && !datum.lod"}],"mark":{"type":"text","fontSize":9,"fontWeight":"bold","baseline":"alphabetic","dy":5},"encoding":{"x":{"field":"x1","type":"quantitative","scale":{"domain":[0.5,11.5],"nice":false,"zero":false},"axis":null},"text":{"field":"t"}}}
    ]}
  ]},
 {"width":288,"height":156,"title":{"text":"F","offset":22,"dx":-5},
  "encoding":{"y":{"field":"v","type":"quantitative","scale":{"domain":[0,8],"nice":false,"zero":false},"axis":{"title":"Lung Virus Titers (Log₁₀)","titleFontSize":15,"values":[0,2,4,6,8],"titlePadding":5}}},
  "resolve":{"scale":{"x":"independent"}},
  "layer":[
   {"data":{"values":[{"g":1,"v":6.0},{"g":1,"v":5.0},{"g":1,"v":4.3},{"g":3,"v":5.7},{"g":3,"v":5.2},{"g":3,"v":4.7},{"g":4,"v":5.0},{"g":4,"v":3.9},{"g":4,"v":3.3},{"g":4,"v":2.5},{"g":4,"v":2.2},{"g":5,"v":3.0},{"g":5,"v":2.3},{"g":5,"v":2.3},{"g":5,"v":2.3},{"g":5,"v":2.2},{"g":6,"v":3.35},{"g":6,"v":2.55},{"g":6,"v":2.5},{"g":6,"v":2.3},{"g":6,"v":2.3},{"g":7,"v":2.3},{"g":7,"v":2.3},{"g":7,"v":2.3},{"g":7,"v":2.3},{"g":7,"v":2.3},{"g":8,"v":4.1},{"g":8,"v":3.35},{"g":8,"v":3.1},{"g":8,"v":2.85},{"g":8,"v":2.4},{"g":9,"v":2.55},{"g":9,"v":2.4},{"g":9,"v":2.35},{"g":9,"v":2.3},{"g":9,"v":2.3},{"g":10,"v":3.9},{"g":10,"v":3.15},{"g":10,"v":3.15},{"g":10,"v":2.4},{"g":11,"v":4.2},{"g":11,"v":3.65},{"g":11,"v":2.7},{"g":11,"v":2.4},{"g":11,"v":2.35}]},
    "encoding":{"x":{"field":"g","type":"nominal","scale":{"type":"band","domain":[1,2,3,4,5,6,7,8,9,10,11],"paddingInner":0,"paddingOuter":0},"axis":{"title":null,"labelAngle":-50,"labelOverlap":false,"labelExpr":"['Vehicle','Advax-1','Advax-2','rSP 2.5 µg','rSP 2.5µg +Alum','rSP 2.5µg +Advax-1','rSP 2.5µg +Advax-2','rSp 10 µg','rSp 10µg+Advax-2','IWV 0.1 µg','IWV + Advax-2'][datum.value - 1]"}}},
    "layer":[
     {"transform":[{"window":[{"op":"row_number","as":"r"},{"op":"count","as":"n"}],"groupby":["g","v"],"frame":[null,null]},{"calculate":"datum.r - (datum.n + 1) / 2","as":"off"}],
      "mark":{"type":"point","filled":true,"size":55,"opacity":1,"strokeWidth":1.2},
      "encoding":{"xOffset":{"field":"off","type":"quantitative","scale":{"domain":[-3,3],"range":[4.1,22.1]}},"color":{"field":"g","type":"nominal","scale":{"domain":[1,2,3,4,5,6,7,8,9,10,11]},"legend":null},"stroke":{"field":"g","type":"nominal","scale":{"domain":[1,2,3,4,5,6,7,8,9,10,11]},"legend":null},"shape":{"field":"g","type":"nominal","scale":{"domain":[1,2,3,4,5,6,7,8,9,10,11]},"legend":null}}},
     {"transform":[{"aggregate":[{"op":"mean","field":"v","as":"v"}],"groupby":["g"]}],"mark":{"type":"tick","thickness":1.6,"size":18,"opacity":1},"encoding":{"color":{"field":"g","type":"nominal","scale":{"domain":[1,2,3,4,5,6,7,8,9,10,11]},"legend":null}}},
     {"mark":{"type":"errorbar","extent":"stderr","thickness":1.5,"ticks":{"size":9,"thickness":1.5}},"encoding":{"color":{"field":"g","type":"nominal","scale":{"domain":[1,2,3,4,5,6,7,8,9,10,11]},"legend":null}}}
    ]},
   {"data":{"values":[{"x1":0.93,"x2":3.2,"v":7.18,"v2":7.18,"cap":1},{"x1":2.02,"x2":2.02,"v":7.18,"v2":7.78},{"x1":2.02,"x2":7.58,"v":7.78,"v2":7.78},{"x1":7.58,"x2":7.58,"v":7.78,"v2":6.03},{"x1":4.02,"x2":11.1,"v":6.03,"v2":6.03,"cap":1},{"x1":4.78,"v":8.2,"t":"***"},
     {"x1":0.5,"x2":11.5,"v":1.14,"lod":1},{"x1":11.55,"v":1.57,"t":"Limit of detection: 0.75","lod":1}]},
    "layer":[
     {"transform":[{"filter":"datum.lod == 1 && isValid(datum.x2)"}],"mark":{"type":"rule","color":"#c4c4c4","strokeWidth":2},"encoding":{"x":{"field":"x1","type":"quantitative","scale":{"domain":[0.5,11.5],"nice":false,"zero":false},"axis":null},"x2":{"field":"x2"}}},
     {"transform":[{"filter":"datum.lod == 1 && isValid(datum.t)"}],"mark":{"type":"text","fontSize":11,"align":"right","baseline":"middle"},"encoding":{"x":{"field":"x1","type":"quantitative","scale":{"domain":[0.5,11.5],"nice":false,"zero":false},"axis":null},"text":{"field":"t"}}},
     {"transform":[{"filter":"isValid(datum.x2) && !datum.lod"}],"mark":{"type":"rule","color":"black","strokeWidth":1.5},"encoding":{"x":{"field":"x1","type":"quantitative","scale":{"domain":[0.5,11.5],"nice":false,"zero":false},"axis":null},"x2":{"field":"x2"},"y2":{"field":"v2"}}},
     {"transform":[{"filter":"datum.cap == 1"}],"mark":{"type":"point","shape":"M0,-1L0,1","size":60,"stroke":"black","strokeWidth":1.5,"filled":false,"opacity":1},"encoding":{"x":{"field":"x1","type":"quantitative","scale":{"domain":[0.5,11.5],"nice":false,"zero":false},"axis":null}}},
     {"transform":[{"filter":"datum.cap == 1"}],"mark":{"type":"point","shape":"M0,-1L0,1","size":60,"stroke":"black","strokeWidth":1.5,"filled":false,"opacity":1},"encoding":{"x":{"field":"x2","type":"quantitative","scale":{"domain":[0.5,11.5],"nice":false,"zero":false},"axis":null}}},
     {"transform":[{"filter":"isValid(datum.t) && !datum.lod"}],"mark":{"type":"text","fontSize":9,"fontWeight":"bold","baseline":"alphabetic","dy":5},"encoding":{"x":{"field":"x1","type":"quantitative","scale":{"domain":[0.5,11.5],"nice":false,"zero":false},"axis":null},"text":{"field":"t"}}}
    ]}
  ]},
 {"width":298,"height":167,"title":{"text":"H","offset":12,"dx":-5},
  "encoding":{"y":{"field":"v","type":"quantitative","scale":{"domain":[0,18],"nice":false,"zero":false},"axis":{"title":"Lung IgG Titers (Log₂)","titleFontSize":14,"values":[0,2,4,6,8,10,12,14,16,18],"labelFontWeight":"normal","labelFontSize":12,"titlePadding":0}}},
  "resolve":{"scale":{"x":"independent"}},
  "layer":[
   {"data":{"values":[{"g":1,"v":1},{"g":1,"v":1},{"g":2,"v":1},{"g":3,"v":1},{"g":3,"v":1},{"g":3,"v":1},{"g":4,"v":10.65},{"g":4,"v":10.65},{"g":4,"v":10.65},{"g":4,"v":10.65},{"g":4,"v":10.65},{"g":5,"v":10.65},{"g":5,"v":10.65},{"g":5,"v":10.65},{"g":5,"v":10.65},{"g":5,"v":8.65},{"g":6,"v":10.65},{"g":6,"v":10.65},{"g":6,"v":10.65},{"g":6,"v":10.65},{"g":6,"v":10.65},{"g":7,"v":12.65},{"g":7,"v":10.65},{"g":7,"v":10.65},{"g":7,"v":10.65},{"g":7,"v":8.65},{"g":8,"v":10.65},{"g":8,"v":10.65},{"g":8,"v":10.65},{"g":8,"v":10.65},{"g":8,"v":10.65},{"g":9,"v":12.65},{"g":9,"v":10.65},{"g":9,"v":10.65},{"g":9,"v":10.65},{"g":9,"v":10.65},{"g":10,"v":12.65},{"g":10,"v":12.65},{"g":10,"v":12.65},{"g":10,"v":10.65},{"g":11,"v":10.65},{"g":11,"v":10.65},{"g":11,"v":10.65},{"g":11,"v":10.65},{"g":11,"v":10.65}]},
    "encoding":{"x":{"field":"g","type":"nominal","scale":{"type":"band","domain":[1,2,3,4,5,6,7,8,9,10,11],"paddingInner":0,"paddingOuter":0},"axis":{"title":null,"labelAngle":-50,"labelOverlap":false,"labelExpr":"['Vehicle','Advax-1','Advax-2','rSP (2.5 µg)','rSP 2.5µg +Alum','rSP 2.5µg +Advax-1','rSP 2.5µg +Advax-2','rSP (10 µg)','rSP 10 µg +Advax-2','IWV (0.1 µg)','IWV + Advax-2'][datum.value - 1]"}}},
    "layer":[
     {"transform":[{"window":[{"op":"row_number","as":"r"},{"op":"count","as":"n"}],"groupby":["g","v"],"frame":[null,null]},{"calculate":"datum.r - (datum.n + 1) / 2","as":"off"}],
      "mark":{"type":"point","filled":true,"size":55,"opacity":1,"strokeWidth":1.2},
      "encoding":{"xOffset":{"field":"off","type":"quantitative","scale":{"domain":[-3,3],"range":[4.5,22.5]}},"color":{"field":"g","type":"nominal","scale":{"domain":[1,2,3,4,5,6,7,8,9,10,11]},"legend":null},"stroke":{"field":"g","type":"nominal","scale":{"domain":[1,2,3,4,5,6,7,8,9,10,11]},"legend":null},"shape":{"field":"g","type":"nominal","scale":{"domain":[1,2,3,4,5,6,7,8,9,10,11]},"legend":null}}},
     {"transform":[{"aggregate":[{"op":"mean","field":"v","as":"v"}],"groupby":["g"]}],"mark":{"type":"tick","thickness":1.6,"size":18,"opacity":1},"encoding":{"color":{"field":"g","type":"nominal","scale":{"domain":[1,2,3,4,5,6,7,8,9,10,11]},"legend":null}}},
     {"mark":{"type":"errorbar","extent":"stderr","thickness":1.5,"ticks":{"size":9,"thickness":1.5}},"encoding":{"color":{"field":"g","type":"nominal","scale":{"domain":[1,2,3,4,5,6,7,8,9,10,11]},"legend":null}}}
    ]},
   {"data":{"values":[{"x1":0.84,"x2":3.13,"v":2.44,"v2":2.44,"cap":1},{"x1":1.93,"x2":1.93,"v":2.44,"v2":16.17},{"x1":1.93,"x2":7.34,"v":16.17,"v2":16.17},{"x1":7.34,"x2":7.34,"v":16.17,"v2":13.69},{"x1":3.71,"x2":11.25,"v":13.69,"v2":13.69,"cap":1},{"x1":4.99,"v":17.0,"t":"***"}]},
    "layer":[
     {"transform":[{"filter":"isValid(datum.x2) && !datum.lod"}],"mark":{"type":"rule","color":"black","strokeWidth":1.5},"encoding":{"x":{"field":"x1","type":"quantitative","scale":{"domain":[0.5,11.5],"nice":false,"zero":false},"axis":null},"x2":{"field":"x2"},"y2":{"field":"v2"}}},
     {"transform":[{"filter":"datum.cap == 1"}],"mark":{"type":"point","shape":"M0,-1L0,1","size":60,"stroke":"black","strokeWidth":1.5,"filled":false,"opacity":1},"encoding":{"x":{"field":"x1","type":"quantitative","scale":{"domain":[0.5,11.5],"nice":false,"zero":false},"axis":null}}},
     {"transform":[{"filter":"datum.cap == 1"}],"mark":{"type":"point","shape":"M0,-1L0,1","size":60,"stroke":"black","strokeWidth":1.5,"filled":false,"opacity":1},"encoding":{"x":{"field":"x2","type":"quantitative","scale":{"domain":[0.5,11.5],"nice":false,"zero":false},"axis":null}}},
     {"transform":[{"filter":"isValid(datum.t) && !datum.lod"}],"mark":{"type":"text","fontSize":9,"fontWeight":"bold","baseline":"alphabetic","dy":5},"encoding":{"x":{"field":"x1","type":"quantitative","scale":{"domain":[0.5,11.5],"nice":false,"zero":false},"axis":null},"text":{"field":"t"}}}
    ]}
  ]}
 ]}
]
}
